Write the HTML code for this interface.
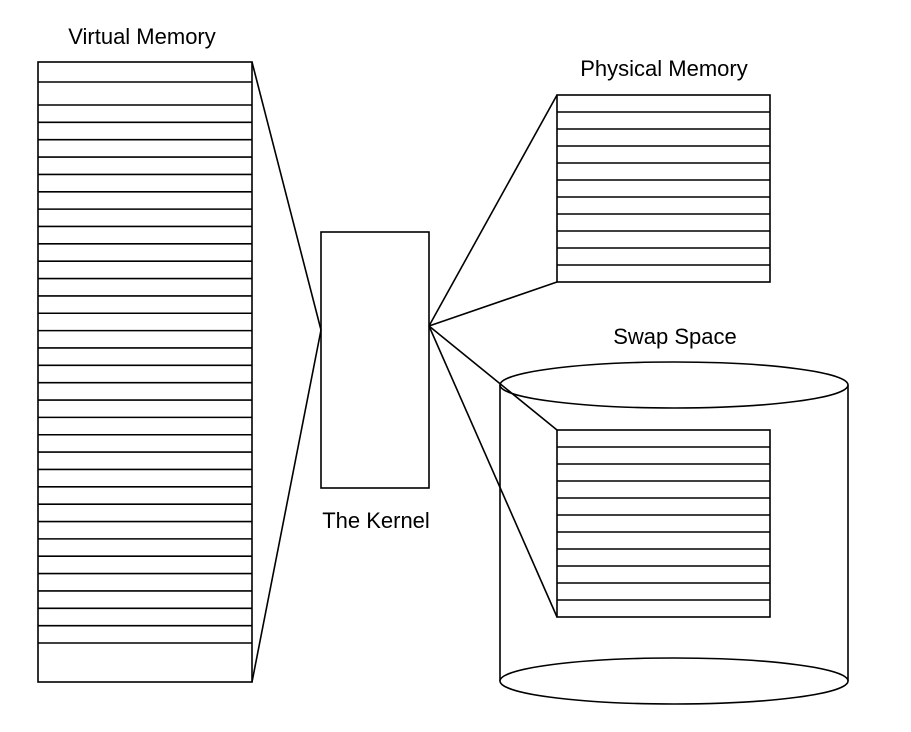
<!DOCTYPE html>
<html><head><meta charset="utf-8"><style>
html,body{margin:0;padding:0;background:#fff}
svg{display:block}
text{font-family:"Liberation Sans Narrow","Liberation Sans",sans-serif;font-size:22px;fill:#000}
</style></head><body>
<svg width="911" height="732" viewBox="0 0 911 732" id="d">
<text x="142" y="44" text-anchor="middle">Virtual Memory</text>
<text x="664" y="76" text-anchor="middle">Physical Memory</text>
<text x="675" y="344" text-anchor="middle">Swap Space</text>
<text x="376" y="528" text-anchor="middle">The Kernel</text>
<g fill="none" stroke="#000" stroke-width="1.6">
<rect x="500" y="385" width="348" height="296" fill="#fff" stroke="none"/>
<line x1="500" y1="385" x2="500" y2="681"/>
<line x1="848" y1="385" x2="848" y2="681"/>
<ellipse cx="674" cy="681" rx="174" ry="23" fill="#fff"/>
<ellipse cx="674" cy="385" rx="174" ry="23" fill="#fff"/>
<rect x="38" y="62" width="214" height="620"/>
<rect x="321" y="232" width="108" height="256"/>
<rect x="557" y="95" width="213" height="187"/>
<rect x="557" y="430" width="213" height="187" fill="#fff"/>
<line x1="252" y1="62" x2="321" y2="330"/>
<line x1="252" y1="682" x2="321" y2="330"/>
<line x1="429" y1="326" x2="557" y2="95"/>
<line x1="429" y1="326" x2="557" y2="282"/>
<line x1="429" y1="326" x2="557" y2="430"/>
<line x1="429" y1="326" x2="557" y2="617"/>
<g id="rows"></g>
</g>
</svg>
<script>
const virtualRows = 33;
const physicalRows = 11;
const swapRows = 11;
const g = document.getElementById('rows');
function hline(x1,x2,y,name){
  const l=document.createElementNS('http://www.w3.org/2000/svg','line');
  l.setAttribute('x1',x1);l.setAttribute('x2',x2);l.setAttribute('y1',y);l.setAttribute('y2',y);
  
  
  g.appendChild(l);
}
hline(38,252,82,'virtual-page-divider');
const vStep=(643-105)/(virtualRows-2);
for(let k=0;k<virtualRows-1;k++) hline(38,252,105+k*vStep,'virtual-page-divider');
const pStep=187/physicalRows;
for(let k=1;k<physicalRows;k++) hline(557,770,95+k*pStep,'physical-page-divider');
const sStep=187/swapRows;
for(let k=1;k<swapRows;k++) hline(557,770,430+k*sStep,'swap-page-divider');
</script>
</body></html>
